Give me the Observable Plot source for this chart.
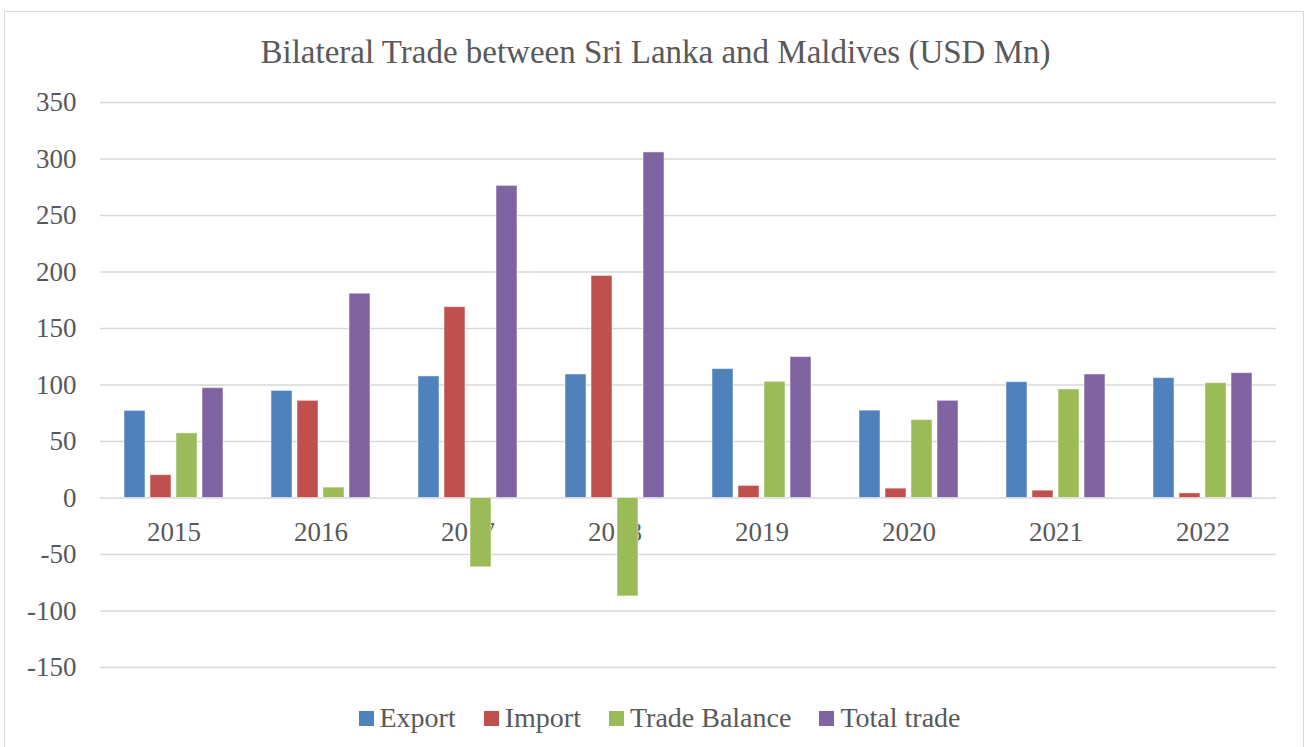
<!DOCTYPE html>
<html>
<head>
<meta charset="utf-8">
<script src="https://cdn.jsdelivr.net/npm/d3@7"></script>
<script src="https://cdn.jsdelivr.net/npm/@observablehq/plot@0.6"></script>
<style>
  html, body { margin: 0; padding: 0; background: #fff; }
  #wrap { position: relative; width: 1307px; height: 747px; overflow: hidden; font-family: "Liberation Serif", serif; color: #595959; }
  #frame { position: absolute; left: 4px; top: 11px; width: 1300px; height: 760px; border: 1.5px solid #d9d9d9; box-sizing: border-box; }
  #title { position: absolute; left: 0; width: 1307px; top: 32px; text-align: center; font-size: 33px; line-height: 40px; white-space: nowrap; padding-left: 4px; box-sizing: border-box; }
  #chart { position: absolute; left: 0; top: 85px; }
  #chart svg text { font-family: "Liberation Serif", serif; }
  #legend { position: absolute; left: 0; width: 1307px; top: 700px; display: flex; justify-content: center; align-items: center; font-size: 28px; line-height: 36px; padding-left: 12px; box-sizing: border-box; }
  .item { display: flex; align-items: center; margin: 0 14px; }
  .sw { width: 15px; height: 15px; margin-right: 6px; }
</style>
</head>
<body>
<div id="wrap">
  <div id="frame"></div>
  <div id="title">Bilateral Trade between Sri Lanka and Maldives (USD Mn)</div>
  <div id="chart"></div>
  <div id="legend"></div>
</div>
<script>
const years = ["2015", "2016", "2017", "2018", "2019", "2020", "2021", "2022"];
const seriesNames = ["Export", "Import", "Trade Balance", "Total trade"];
const exportVals = [77.1, 94.8, 107.6, 109.3, 114.1, 77.3, 102.5, 106.1];
const importVals = [20.2, 86.0, 168.9, 196.5, 10.7, 8.3, 6.5, 4.1];
const balanceVals = [57.2, 9.2, -61.3, -87.1, 102.8, 69.0, 96.0, 101.6];
const totalVals = [97.2, 180.8, 276.2, 305.8, 124.7, 86.0, 109.3, 110.5];
const seriesColors = ["#4F81BD", "#C0504D", "#9BBB59", "#8064A2"];
const yTicks = [-150, -100, -50, 0, 50, 100, 150, 200, 250, 300, 350];

const valueLists = [exportVals, importVals, balanceVals, totalVals];
const rows = [];
years.forEach((year, i) => {
  seriesNames.forEach((s, j) => rows.push({year, series: s, value: valueLists[j][i]}));
});

const chart = Plot.plot({
  width: 1307,
  height: 600,
  marginLeft: 99,
  marginRight: 30,
  marginTop: 17,
  marginBottom: 18,
  style: {fontFamily: "'Liberation Serif', serif", fontSize: "27px", color: "#595959", background: "transparent"},
  fx: {domain: years, padding: 0, axis: null},
  x: {domain: seriesNames, paddingInner: 0.2, paddingOuter: 0.85, axis: null},
  y: {domain: [-150, 350]},
  color: {domain: seriesNames, range: seriesColors},
  marks: [
    Plot.gridY(yTicks, {stroke: "#d9d9d9", strokeOpacity: 1, strokeWidth: 1.5}),
    Plot.axisY(yTicks, {tickSize: 0, tickPadding: 24, label: null, fontSize: 27, fill: "#595959", fontFamily: "Liberation Serif", tickFormat: d => String(d)}),
    Plot.text(years, {fx: d => d, y: () => 0, text: d => d, dy: 34, fontSize: 27, fill: "#595959", fontFamily: "Liberation Serif"}),
    Plot.barY(rows, {fx: "year", x: "series", y: "value", fill: "series", stroke: "#ffffff", strokeOpacity: 0.5, strokeWidth: 1})
  ]
});
document.getElementById("chart").appendChild(chart);

const legend = document.getElementById("legend");
seriesNames.forEach((s, j) => {
  const item = document.createElement("div");
  item.className = "item";
  const sw = document.createElement("div");
  sw.className = "sw";
  sw.style.background = seriesColors[j];
  const label = document.createElement("span");
  label.textContent = s;
  item.appendChild(sw);
  item.appendChild(label);
  legend.appendChild(item);
});
</script>
</body>
</html>
